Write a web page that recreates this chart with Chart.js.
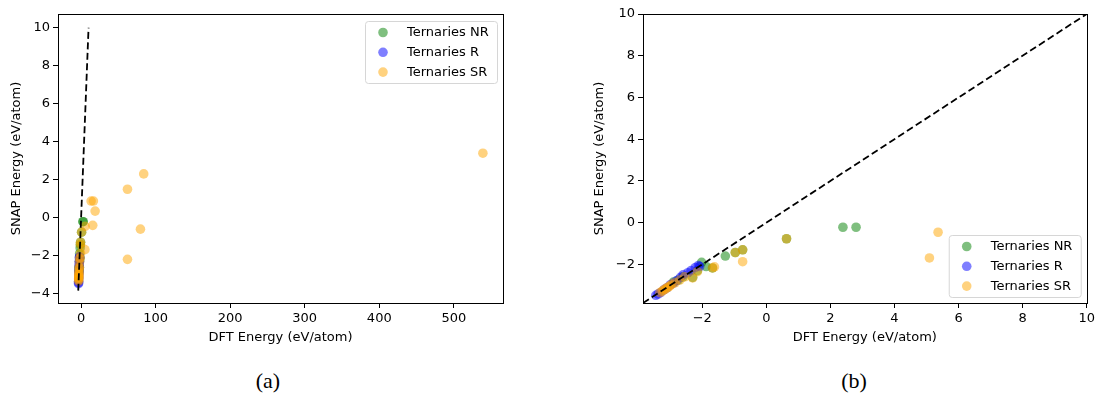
<!DOCTYPE html>
<html>
<head>
<meta charset="utf-8">
<script src="https://cdn.jsdelivr.net/npm/chart.js@4/dist/chart.umd.min.js"></script>
<style>
  html, body { margin: 0; padding: 0; background: #fff; }
  body { width: 1098px; height: 400px; position: relative; overflow: hidden; }
  .panel { position: absolute; top: 0; height: 355px; }
  .caption {
    position: absolute; top: 368px; width: 60px; margin-left: -30px;
    text-align: center; font-family: "Liberation Serif", serif; font-size: 22px; color: #000;
  }
</style>
</head>
<body>
<div class="panel" style="left:0;width:540px"><canvas id="chartA"></canvas></div>
<div class="panel" style="left:545px;width:553px"><canvas id="chartB"></canvas></div>
<div class="caption" style="left:268px">(a)</div>
<div class="caption" style="left:854px">(b)</div>

<script>
// DFT vs SNAP energies (eV/atom), [dft, snap]
const ternariesNR = [
  [-2.9, -2.85], [-2.75, -2.75], [-2.6, -2.6], [-2.3, -2.62], [-2.15, -2.3],
  [-2.02, -1.9], [-1.88, -2.1], [-1.68, -2.17], [-1.28, -1.6], [-0.97, -1.43],
  [-0.74, -1.3], [0.63, -0.77], [2.39, -0.22], [2.8, -0.22],
];
const ternariesR = [
  [-3.45, -3.48], [-3.38, -3.42], [-3.3, -3.35], [-3.2, -3.22], [-3.1, -3.12],
  [-3.0, -2.98], [-2.9, -2.9], [-2.8, -2.78], [-2.68, -2.62], [-2.6, -2.5],
  [-2.45, -2.4], [-2.35, -2.3], [-2.22, -2.15], [-2.12, -2.05], [-2.08, -2.1],
];
const ternariesSR = [
  [-3.32, -3.35], [-3.25, -3.28], [-3.2, -3.22], [-3.15, -3.18], [-3.1, -3.12],
  [-3.05, -3.08], [-3.0, -3.02], [-2.95, -2.95], [-2.85, -2.88], [-2.7, -2.75],
  [-2.55, -2.6], [-2.3, -2.65], [-2.15, -2.35], [-1.68, -2.17], [-1.62, -2.12],
  [-0.97, -1.43], [-0.74, -1.3], [-0.74, -1.87], [0.63, -0.77], [5.09, -1.69],
  [5.36, -0.46], [13.4, 0.87], [16.5, 0.87], [18.8, 0.34], [15.6, -0.41],
  [62.2, 1.49], [84, 2.3], [79.6, -0.61], [62.2, -2.2], [539, 3.39],
];
// y = x reference line
const parityLine = [-3.85, 10];

const seriesLabels = ["Ternaries NR", "Ternaries R", "Ternaries SR"];
const seriesColors = ["rgba(0,128,0,0.5)", "rgba(0,0,255,0.5)", "rgba(255,165,0,0.5)"];

const ticksAX = [0, 100, 200, 300, 400, 500];
const ticksAY = [-4, -2, 0, 2, 4, 6, 8, 10];
const ticksBX = [-2, 0, 2, 4, 6, 8, 10];
const ticksBY = [-2, 0, 2, 4, 6, 8, 10];

const FONT = "'DejaVu Sans', sans-serif";
const toXY = (arr) => arr.map(([x, y]) => ({ x, y }));
const fmtTick = (v) => String(v).replace("-", "\u2212");

// frame on all four sides + matplotlib-style legend box
const framePlugin = {
  id: "frameLegend",
  afterDraw(chart, args, opts) {
    const { ctx, chartArea: a } = chart;
    ctx.save();
    ctx.strokeStyle = "#000";
    ctx.lineWidth = 1;
    ctx.strokeRect(Math.round(a.left) + 0.5, Math.round(a.top) + 0.5,
      Math.round(a.right - a.left), Math.round(a.bottom - a.top));

    const w = 132, h = 62, gap = 6;
    const bx = a.right - gap - w;
    const by = opts.corner === "bottom" ? a.bottom - gap - h : a.top + gap + 1;
    ctx.beginPath();
    ctx.roundRect(bx + 0.5, by + 0.5, w, h, 3);
    ctx.fillStyle = "rgba(255,255,255,0.8)";
    ctx.fill();
    ctx.strokeStyle = "#d6d6d6";
    ctx.stroke();

    ctx.font = "13px " + FONT;
    ctx.textBaseline = "middle";
    seriesLabels.forEach((label, i) => {
      const cy = by + 11.5 + i * 19.8;
      ctx.beginPath();
      ctx.arc(bx + 18, cy, 4.8, 0, Math.PI * 2);
      ctx.fillStyle = seriesColors[i];
      ctx.fill();
      ctx.fillStyle = "#000";
      ctx.fillText(label, bx + 42, cy + 0.5);
    });
    ctx.restore();
  },
};

function makeScale(ticks, min, max, title, size, titlePad) {
  return {
    type: "linear",
    min, max,
    afterBuildTicks: (s) => { s.ticks = ticks.map((v) => ({ value: v })); },
    afterFit: (s) => { if (s.isHorizontal()) s.height = size; else s.width = size; },
    grid: { drawOnChartArea: false, tickLength: 5, color: "#000", lineWidth: 1 },
    border: { display: true, color: "#000", width: 1 },
    ticks: { color: "#000", padding: 3, font: { family: FONT, size: 13 }, callback: fmtTick },
    title: { display: true, text: title, color: "#000", font: { family: FONT, size: 13 }, padding: titlePad },
  };
}

function makeChart(id, cfg) {
  const datasets = [
    {
      type: "line", data: toXY([[parityLine[0], parityLine[0]], [parityLine[1], parityLine[1]]]),
      borderColor: "#000", borderWidth: 1.8, borderDash: [7, 3.5], pointRadius: 0, order: 0,
    },
  ];
  [ternariesNR, ternariesR, ternariesSR].forEach((pts, i) => {
    datasets.push({
      label: seriesLabels[i], data: toXY(pts),
      backgroundColor: seriesColors[i], borderWidth: 0,
      pointRadius: 4.8, clip: 0, order: 3 - i,
    });
  });

  return new Chart(document.getElementById(id), {
    type: "scatter",
    data: { datasets },
    options: {
      responsive: true, maintainAspectRatio: false, animation: false,
      layout: { padding: { left: 0, right: cfg.padRight, top: 14, bottom: 0 } },
      plugins: { legend: { display: false }, tooltip: { enabled: false }, frameLegend: { corner: cfg.corner } },
      scales: {
        x: makeScale(cfg.xTicks, cfg.xMin, cfg.xMax, "DFT Energy (eV/atom)", 52, { bottom: 10 }),
        y: makeScale(cfg.yTicks, cfg.yMin, cfg.yMax, "SNAP Energy (eV/atom)", cfg.yWidth, { top: cfg.yTitlePad }),
      },
    },
    plugins: [framePlugin],
  });
}

makeChart("chartA", {
  xTicks: ticksAX, yTicks: ticksAY, xMin: -31, xMax: 566, yMin: -4.5, yMax: 10.72,
  padRight: 37, yWidth: 58, yTitlePad: 9, corner: "top",
});
makeChart("chartB", {
  xTicks: ticksBX, yTicks: ticksBY, xMin: -3.85, xMax: 10, yMin: -3.85, yMax: 10,
  padRight: 9, yWidth: 98, yTitlePad: 47, corner: "bottom",
});
</script>
</body>
</html>
